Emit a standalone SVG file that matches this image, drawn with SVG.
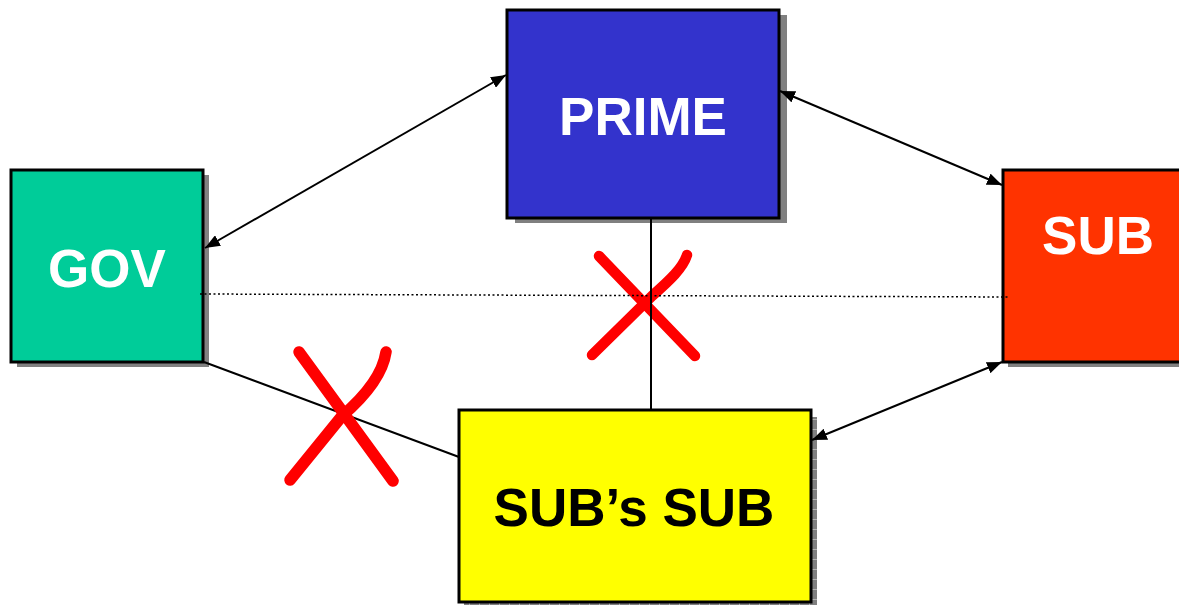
<svg xmlns="http://www.w3.org/2000/svg" width="1179" height="605" viewBox="0 0 1179 605">
  <style>
    .box { stroke: #000; stroke-width: 3; }
    .shadow { fill: #808080; }
    .label { font-family: "Liberation Sans", Arial, sans-serif; font-weight: bold; font-size: 53px; text-anchor: middle; }
    .link { fill: none; stroke: #000; stroke-width: 2; }
    .dotted { fill: none; stroke: #000; stroke-width: 1.5; stroke-dasharray: 2 2.5; }
    .cross { fill: none; stroke: #ff0000; stroke-linecap: round; stroke-linejoin: round; }
  </style>
  <defs>
    <marker id="arrow" viewBox="0 0 15 12" refX="15" refY="6" markerWidth="15" markerHeight="12" markerUnits="userSpaceOnUse" orient="auto-start-reverse">
      <path d="M0,0 L15,6 L0,12 Z" fill="#000"/>
    </marker>
    <pattern id="hatch" width="10" height="10" patternUnits="userSpaceOnUse">
      <rect width="10" height="10" fill="#b4b4b4"/>
      <rect x="0" y="0" width="9" height="9" fill="#808080"/>
    </pattern>
  </defs>

  <rect width="1179" height="605" fill="#fff"/>

  <!-- PRIME -->
  <g id="prime">
    <rect class="shadow" x="515" y="15" width="272" height="208"/>
    <rect class="box" x="507" y="10" width="272" height="208" fill="#3333cc"/>
    <text class="label" x="643" y="135" fill="#fff">PRIME</text>
  </g>

  <!-- GOV -->
  <g id="gov">
    <rect class="shadow" x="17" y="175" width="192" height="192"/>
    <rect class="box" x="11" y="170" width="192" height="192" fill="#00cc99"/>
    <text class="label" x="107" y="287" fill="#fff">GOV</text>
  </g>

  <!-- SUB -->
  <g id="sub">
    <rect class="shadow" x="1008" y="175" width="180" height="192"/>
    <rect class="box" x="1003" y="170" width="190" height="192" fill="#ff3300"/>
    <text class="label" x="1098" y="254" fill="#fff">SUB</text>
  </g>

  <!-- SUB's SUB -->
  <g id="subs-sub">
    <rect x="464" y="417" width="353" height="195" fill="url(#hatch)"/>
    <rect class="box" x="459" y="410" width="352" height="192" fill="#ffff00"/>
    <text class="label" x="634" y="526" fill="#000">SUB’s SUB</text>
  </g>

  <!-- red cross over the PRIME / SUB's SUB tie -->
  <g id="cross-prime-subs-sub" class="cross">
    <path d="M599,256 L695,356" stroke-width="10.5"/>
    <path d="M687,255 C683,268 670,280 652,296 L592,355" stroke-width="10.5"/>
  </g>

  <!-- connectors -->
  <g id="connectors">
    <path class="link" d="M205,248 L506,75" marker-start="url(#arrow)" marker-end="url(#arrow)"/>
    <path class="link" d="M780,91 L1002,185" marker-start="url(#arrow)" marker-end="url(#arrow)"/>
    <path class="link" d="M812,440 L1002,362" marker-start="url(#arrow)" marker-end="url(#arrow)"/>
    <path class="link" d="M651,218 L651,410"/>
    <path class="link" d="M204,362 L459,457"/>
    <path class="dotted" d="M200,294 L1010,297"/>
  </g>

  <!-- red cross over the GOV / SUB's SUB tie -->
  <g id="cross-gov-subs-sub" class="cross">
    <path d="M299,352 L393,481" stroke-width="11.5"/>
    <path d="M386,352 C383,372 370,392 342,416 L290,480" stroke-width="11.5"/>
  </g>
</svg>
